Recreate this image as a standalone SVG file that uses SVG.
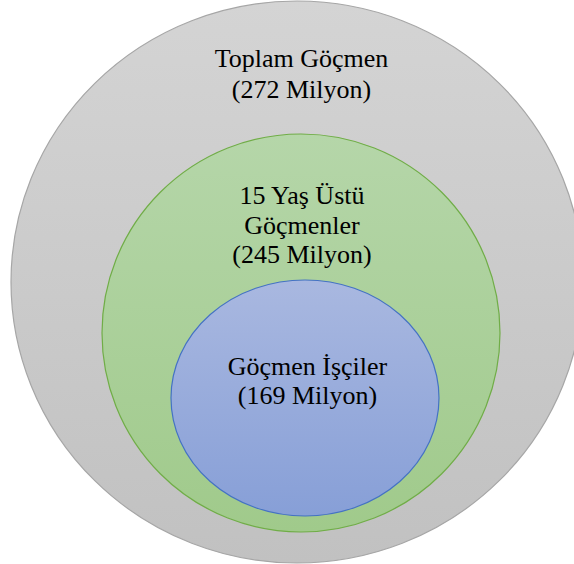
<svg xmlns="http://www.w3.org/2000/svg" width="574" height="564" viewBox="0 0 574 564">
<defs>
<linearGradient id="gGray" x1="0" y1="0" x2="0" y2="1">
<stop offset="0" stop-color="#d4d4d4"/>
<stop offset="1" stop-color="#c1c1c1"/>
</linearGradient>
<linearGradient id="gGreen" x1="0" y1="0" x2="0" y2="1">
<stop offset="0" stop-color="#b5d6a9"/>
<stop offset="1" stop-color="#a0ca8b"/>
</linearGradient>
<linearGradient id="gBlue" x1="0" y1="0" x2="0" y2="1">
<stop offset="0" stop-color="#a9b8e0"/>
<stop offset="1" stop-color="#879fd7"/>
</linearGradient>
</defs>
<style>
text { font-family: 'Liberation Serif', 'Times New Roman', Tinos, 'DejaVu Serif', serif; font-size: 26px; fill: #000000; text-anchor: middle; }
</style>
<rect width="574" height="564" fill="#ffffff"/>
<g id="outer">
<ellipse cx="297" cy="282" rx="286" ry="281" fill="url(#gGray)" stroke="#a6a6a6" stroke-width="1.2"/>
<text x="301.5" y="66.5" font-family="Liberation Serif, serif">Toplam Göçmen</text>
<text x="301.5" y="97.5" font-family="Liberation Serif, serif">(272 Milyon)</text>
</g>
<g id="middle">
<ellipse cx="301" cy="333" rx="199" ry="199" fill="url(#gGreen)" stroke="#70ad47" stroke-width="1.2"/>
<text x="302" y="204" font-family="Liberation Serif, serif">15 Yaş Üstü</text>
<text x="302" y="233.5" font-family="Liberation Serif, serif">Göçmenler</text>
<text x="302" y="262.5" font-family="Liberation Serif, serif">(245 Milyon)</text>
</g>
<g id="inner">
<ellipse cx="305" cy="398" rx="134" ry="118" fill="url(#gBlue)" stroke="#4472c4" stroke-width="1.2"/>
<text x="307.5" y="375" font-family="Liberation Serif, serif">Göçmen İşçiler</text>
<text x="307.5" y="404" font-family="Liberation Serif, serif">(169 Milyon)</text>
</g>
<g id="connectors"/>
</svg>
